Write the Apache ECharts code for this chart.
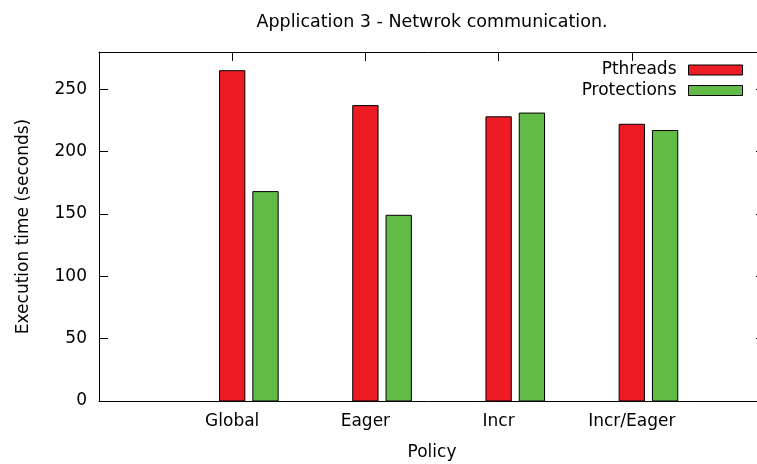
<!DOCTYPE html>
<html>
<head>
<meta charset="utf-8">
<script src="https://cdn.jsdelivr.net/npm/echarts@6/dist/echarts.min.js"></script>
<style>
html,body{margin:0;padding:0;background:#fff;}
#chart{width:757px;height:464px;}
</style>
</head>
<body>
<div id="chart"></div>
<script>
const categories = ['Global', 'Eager', 'Incr', 'Incr/Eager'];
const pthreads = [265, 237, 228, 222];
const protections = [168, 149, 231, 217];
const seriesNames = ['Pthreads', 'Protections'];
const yTicks = [0, 50, 100, 150, 200, 250];

const FONT = 'DejaVu Sans';
const RED = '#ED1C24';
const GREEN = '#62BB46';
const BAR_W = 0.19;
const OFFSETS = [0, 0.25];
const COLORS = [RED, GREEN];

const chart = echarts.init(document.getElementById('chart'), null, {renderer: 'canvas'});

function makeRender(si) {
  return function (params, api) {
    const x = api.value(0) + OFFSETS[si];
    const v = api.value(1);
    const p1 = api.coord([x - BAR_W / 2, v]);
    const p2 = api.coord([x + BAR_W / 2, 0]);
    return {
      type: 'rect',
      shape: {x: p1[0], y: p1[1], width: p2[0] - p1[0], height: p2[1] - p1[1]},
      style: {fill: COLORS[si], stroke: '#000', lineWidth: 1}
    };
  };
}

const axisLine = {show: true, onZero: false, lineStyle: {color: '#000', width: 1}};
const textBase = {fontFamily: FONT, fontSize: 17, color: '#000'};

const option = {
  animation: false,
  backgroundColor: '#fff',
  graphic: [{
    type: 'text', x: 432, y: 22,
    style: {text: 'Application 3 - Netwrok communication.', textAlign: 'center', textVerticalAlign: 'middle', fill: '#000', font: '17.5px "DejaVu Sans"'}
  }],
  legend: [
    {
      data: [{name: seriesNames[0], itemStyle: {color: RED, borderColor: '#000', borderWidth: 1}}],
      right: 14, top: 61.5, padding: 0, align: 'right', icon: 'rect',
      itemWidth: 54, itemHeight: 10,
      textStyle: Object.assign({padding: [0, 7, 0, 0]}, textBase), selectedMode: false
    },
    {
      data: [{name: seriesNames[1], itemStyle: {color: GREEN, borderColor: '#000', borderWidth: 1}}],
      right: 14, top: 82, padding: 0, align: 'right', icon: 'rect',
      itemWidth: 54, itemHeight: 10,
      textStyle: Object.assign({padding: [0, 7, 0, 0]}, textBase), selectedMode: false
    }
  ],
  grid: {left: 99, top: 52, width: 666, height: 349, containLabel: false, outerBoundsMode: 'none'},
  xAxis: [
    {
      type: 'value', position: 'bottom', min: -1, max: 4, interval: 1,
      name: 'Policy', nameLocation: 'middle', nameGap: 43, nameTextStyle: textBase,
      axisLine: axisLine,
      axisTick: {show: true, inside: true, length: 9, lineStyle: {color: '#000'}},
      axisLabel: Object.assign({margin: 12, formatter: function (v) { return categories[v] !== undefined ? categories[v] : ''; }}, textBase),
      splitLine: {show: false}
    },
    {
      type: 'value', position: 'top', min: -1, max: 4, interval: 1,
      axisLine: axisLine,
      axisTick: {show: true, inside: true, length: 9, lineStyle: {color: '#000'}},
      axisLabel: {show: false},
      splitLine: {show: false}
    }
  ],
  yAxis: [
    {
      type: 'value', position: 'left', min: 0, max: 280, interval: 50,
      name: 'Execution time (seconds)', nameLocation: 'middle', nameGap: 67, nameTextStyle: textBase,
      axisLine: axisLine,
      axisTick: {show: true, inside: true, length: 9, lineStyle: {color: '#000'}},
      axisLabel: Object.assign({margin: 12, formatter: function (v) { return yTicks.indexOf(v) >= 0 ? String(v) : ''; }}, textBase),
      splitLine: {show: false}
    },
    {
      type: 'value', position: 'right', min: 0, max: 280, interval: 50,
      axisLine: axisLine,
      axisTick: {show: true, inside: true, length: 9, lineStyle: {color: '#000'}},
      axisLabel: {show: false},
      splitLine: {show: false}
    }
  ],
  series: [
    {
      name: seriesNames[0], type: 'custom', xAxisIndex: 0, yAxisIndex: 0,
      itemStyle: {color: RED, borderColor: '#000', borderWidth: 1},
      renderItem: makeRender(0),
      data: pthreads.map(function (v, i) { return [i, v]; })
    },
    {
      name: seriesNames[1], type: 'custom', xAxisIndex: 0, yAxisIndex: 0,
      itemStyle: {color: GREEN, borderColor: '#000', borderWidth: 1},
      renderItem: makeRender(1),
      data: protections.map(function (v, i) { return [i, v]; })
    }
  ]
};
chart.setOption(option);
</script>
</body>
</html>
